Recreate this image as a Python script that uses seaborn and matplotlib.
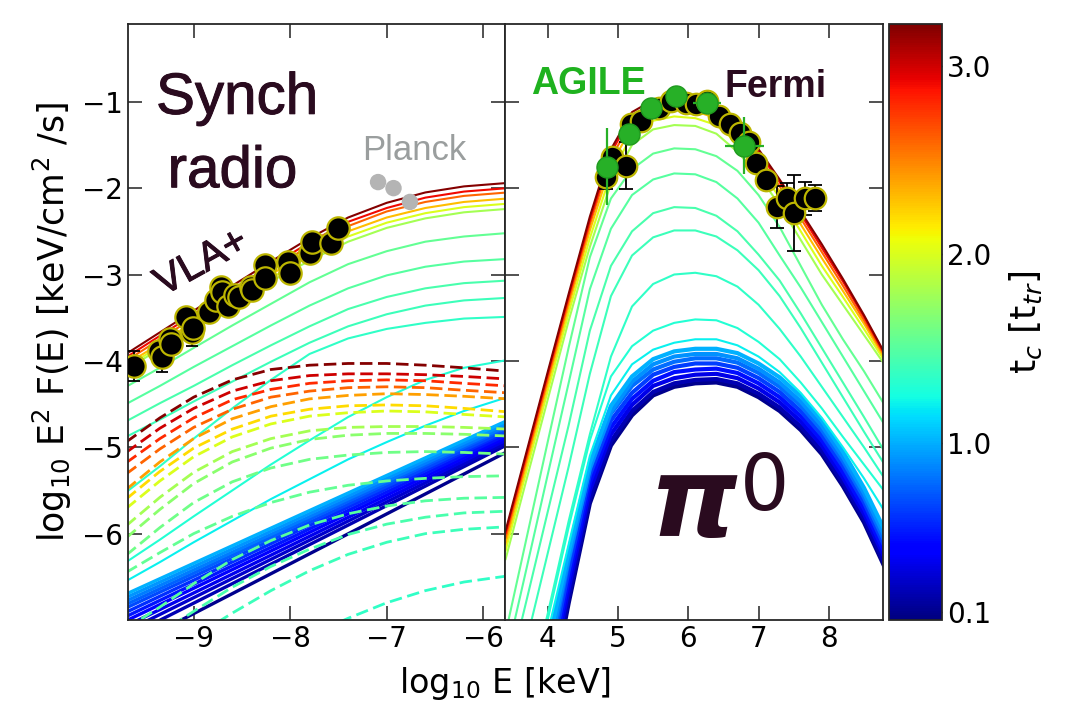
import matplotlib
matplotlib.use("Agg")
import matplotlib.pyplot as plt
import matplotlib.patheffects as pe
import pandas as pd
import seaborn as sns

sns.set_style("ticks")
plt.rcParams['font.family'] = ['DejaVu Sans']
plt.rcParams['axes.linewidth'] = 1.3

T_MIN, T_MAX = 0.06, 3.22
JET = matplotlib.colormaps['jet']

# ---------------- left panel: synchrotron (radio) ----------------
x_syn = [-9.7, -9.35, -9.0, -8.6, -8.2, -7.8, -7.4, -7.0, -6.6, -6.2, -5.75]

syn_t = [1.2, 1.3, 1.35, 1.4, 1.45, 1.5, 1.55, 1.8, 2.0, 2.3, 2.6, 2.9, 3.2]
syn_y = [
    [-6.55, -6.33, -6.10, -5.85, -5.60, -5.37, -5.14, -4.94, -4.75, -4.58, -4.42],
    [-6.33, -6.07, -5.80, -5.50, -5.20, -4.92, -4.65, -4.42, -4.22, -4.08, -3.99],
    [-5.52, -5.22, -4.90, -4.55, -4.22, -3.92, -3.74, -3.63, -3.56, -3.51, -3.49],
    [-4.88, -4.68, -4.47, -4.24, -4.01, -3.79, -3.60, -3.46, -3.36, -3.30, -3.27],
    [-4.70, -4.49, -4.29, -4.05, -3.82, -3.60, -3.40, -3.26, -3.16, -3.10, -3.07],
    [-4.50, -4.29, -4.07, -3.83, -3.59, -3.36, -3.16, -3.01, -2.91, -2.85, -2.82],
    [-4.30, -4.08, -3.85, -3.59, -3.34, -3.09, -2.88, -2.73, -2.62, -2.56, -2.52],
    [-4.10, -3.86, -3.62, -3.35, -3.08, -2.84, -2.62, -2.46, -2.35, -2.28, -2.24],
    [-4.07, -3.83, -3.59, -3.31, -3.04, -2.79, -2.56, -2.40, -2.29, -2.22, -2.18],
    [-4.04, -3.80, -3.55, -3.27, -3.00, -2.73, -2.50, -2.34, -2.23, -2.16, -2.12],
    [-4.00, -3.75, -3.50, -3.22, -2.94, -2.67, -2.44, -2.27, -2.16, -2.09, -2.05],
    [-3.96, -3.71, -3.46, -3.17, -2.90, -2.63, -2.39, -2.23, -2.11, -2.04, -2.00],
    [-3.92, -3.67, -3.42, -3.13, -2.85, -2.58, -2.34, -2.17, -2.05, -1.98, -1.94],
]

# early times: nearly straight lines, value at each end of the panel
x_syn_band = [-9.7, -5.75]
syn_band_t = [0.1, 0.2, 0.28, 0.36, 0.44, 0.52, 0.6, 0.68, 0.76, 0.84, 0.92, 1.0]
syn_band_lo = [-7.33, -7.20, -7.13, -7.07, -7.01, -6.96, -6.91, -6.86, -6.82, -6.78, -6.74, -6.70]
syn_band_hi = [-5.05, -4.97, -4.94, -4.91, -4.88, -4.85, -4.82, -4.80, -4.77, -4.75, -4.72, -4.69]

syn_dash_t = [1.35, 1.4, 1.45, 1.5, 1.55, 1.6, 1.7, 1.8, 2.0, 2.2, 2.4, 2.6, 2.8, 3.0, 3.2]
syn_dash_y = [
    [-8.30, -8.10, -7.90, -7.65, -7.40, -7.18, -6.98, -6.80, -6.66, -6.56, -6.49],
    [-7.70, -7.45, -7.20, -6.92, -6.66, -6.43, -6.24, -6.10, -6.00, -5.95, -5.92],
    [-7.40, -7.15, -6.90, -6.62, -6.38, -6.18, -6.01, -5.89, -5.81, -5.76, -5.74],
    [-7.10, -6.85, -6.58, -6.30, -6.08, -5.90, -5.77, -5.68, -5.62, -5.59, -5.58],
    [-6.45, -6.22, -6.00, -5.80, -5.64, -5.52, -5.44, -5.39, -5.36, -5.34, -5.33],
    [-6.25, -5.93, -5.64, -5.40, -5.24, -5.14, -5.09, -5.06, -5.05, -5.06, -5.08],
    [-6.05, -5.72, -5.42, -5.17, -5.01, -4.91, -4.86, -4.84, -4.84, -4.85, -4.87],
    [-5.91, -5.58, -5.29, -5.05, -4.90, -4.81, -4.77, -4.76, -4.76, -4.77, -4.79],
    [-5.71, -5.39, -5.11, -4.88, -4.73, -4.64, -4.60, -4.58, -4.59, -4.62, -4.65],
    [-5.60, -5.28, -5.01, -4.79, -4.64, -4.56, -4.52, -4.51, -4.52, -4.55, -4.59],
    [-5.49, -5.17, -4.90, -4.67, -4.53, -4.44, -4.40, -4.38, -4.39, -4.41, -4.44],
    [-5.31, -5.02, -4.77, -4.56, -4.42, -4.35, -4.31, -4.30, -4.31, -4.34, -4.37],
    [-5.18, -4.90, -4.66, -4.45, -4.33, -4.26, -4.23, -4.22, -4.23, -4.26, -4.29],
    [-5.06, -4.78, -4.55, -4.35, -4.23, -4.17, -4.15, -4.15, -4.16, -4.18, -4.21],
    [-4.94, -4.66, -4.42, -4.22, -4.10, -4.05, -4.03, -4.03, -4.05, -4.08, -4.12],
]

vla_x = [-9.62, -9.36, -9.33, -9.25, -9.23, -9.08, -9.02, -9.01, -8.84, -8.77, -8.72, -8.71, -8.64,
         -8.57, -8.53, -8.41, -8.40, -8.26, -8.26, -8.02, -8.00, -7.79, -7.77, -7.58, -7.50]
vla_y = [-4.06, -3.89, -3.96, -3.75, -3.81, -3.49, -3.66, -3.62, -3.43, -3.29, -3.14, -3.20, -3.37,
         -3.24, -3.26, -3.14, -3.18, -2.89, -3.04, -2.85, -2.98, -2.75, -2.62, -2.64, -2.46]
vla_err = [0.17, 0.05, 0.17, 0.05, 0.05, 0.05, 0.17, 0.05, 0.05, 0.05, 0.05, 0.05, 0.05,
           0.05, 0.05, 0.05, 0.05, 0.05, 0.05, 0.05, 0.05, 0.05, 0.05, 0.05, 0.05]

planck_x = [-7.09, -6.93, -6.76]
planck_y = [-1.93, -2.00, -2.16]

# ---------------- right panel: pi0 decay gamma rays ----------------
x_pi = [3.4, 3.7, 4.0, 4.3, 4.6, 4.9, 5.2, 5.5, 5.8, 6.1, 6.4, 6.7, 7.0, 7.3, 7.6, 7.9, 8.2, 8.5, 8.8]

pi_t = [1.2, 1.3, 1.35, 1.4, 1.45, 1.5, 1.55, 1.8, 2.0, 2.3, 2.6, 2.9, 3.2]
pi_y = [
    [-9.30, -8.20, -7.15, -6.12, -5.10, -4.40, -4.04, -3.87, -3.79, -3.75, -3.75, -3.82, -3.95, -4.13, -4.37, -4.66, -5.00, -5.36, -5.75],
    [-9.20, -8.10, -7.00, -5.92, -4.92, -4.18, -3.83, -3.65, -3.56, -3.52, -3.53, -3.62, -3.78, -3.98, -4.25, -4.55, -4.88, -5.20, -5.52],
    [-9.00, -7.95, -6.93, -5.85, -4.85, -3.95, -3.37, -3.11, -3.00, -2.98, -3.02, -3.14, -3.35, -3.63, -3.95, -4.30, -4.65, -5.00, -5.37],
    [-8.25, -7.24, -6.23, -5.22, -4.15, -3.25, -2.78, -2.57, -2.49, -2.49, -2.56, -2.72, -2.95, -3.25, -3.62, -4.02, -4.42, -4.82, -5.21],
    [-7.78, -6.77, -5.75, -4.74, -3.65, -2.90, -2.50, -2.29, -2.22, -2.23, -2.32, -2.50, -2.77, -3.07, -3.45, -3.85, -4.25, -4.65, -5.06],
    [-7.47, -6.40, -5.32, -4.25, -3.17, -2.47, -2.08, -1.90, -1.83, -1.84, -1.93, -2.12, -2.40, -2.78, -3.15, -3.55, -3.95, -4.35, -4.75],
    [-7.16, -6.05, -4.94, -3.84, -2.80, -2.12, -1.78, -1.60, -1.54, -1.55, -1.63, -1.80, -2.08, -2.45, -2.90, -3.35, -3.75, -4.12, -4.52],
    [-6.30, -5.37, -4.45, -3.53, -2.68, -1.95, -1.50, -1.32, -1.27, -1.28, -1.37, -1.58, -1.85, -2.20, -2.60, -3.00, -3.35, -3.70, -4.05],
    [-6.20, -5.27, -4.35, -3.44, -2.58, -1.83, -1.39, -1.22, -1.17, -1.19, -1.27, -1.48, -1.76, -2.11, -2.50, -2.90, -3.26, -3.63, -4.01],
    [-6.12, -5.19, -4.27, -3.36, -2.49, -1.73, -1.29, -1.13, -1.09, -1.11, -1.19, -1.40, -1.69, -2.04, -2.42, -2.81, -3.19, -3.57, -3.98],
    [-6.05, -5.13, -4.21, -3.30, -2.42, -1.65, -1.22, -1.07, -1.03, -1.05, -1.13, -1.33, -1.63, -1.98, -2.35, -2.74, -3.13, -3.53, -3.95],
    [-6.00, -5.08, -4.16, -3.25, -2.37, -1.59, -1.16, -1.01, -0.98, -1.00, -1.08, -1.28, -1.58, -1.93, -2.30, -2.69, -3.08, -3.49, -3.93],
    [-5.97, -5.05, -4.13, -3.22, -2.33, -1.55, -1.12, -0.98, -0.95, -0.97, -1.05, -1.25, -1.55, -1.90, -2.27, -2.65, -3.05, -3.47, -3.92],
]

pi_band_t = [0.1, 0.2, 0.35, 0.5, 0.65, 0.8, 0.9, 1.0]
pi_band_y = [
    [-10.50, -9.30, -8.05, -6.80, -5.65, -4.98, -4.63, -4.40, -4.30, -4.26, -4.25, -4.30, -4.42, -4.58, -4.80, -5.08, -5.45, -5.87, -6.40],
    [-10.45, -9.23, -7.97, -6.73, -5.59, -4.93, -4.58, -4.36, -4.26, -4.22, -4.21, -4.26, -4.38, -4.54, -4.76, -5.04, -5.41, -5.83, -6.36],
    [-10.38, -9.13, -7.86, -6.63, -5.50, -4.85, -4.51, -4.29, -4.20, -4.16, -4.15, -4.20, -4.32, -4.48, -4.70, -4.98, -5.35, -5.77, -6.29],
    [-10.30, -9.02, -7.75, -6.52, -5.41, -4.77, -4.44, -4.23, -4.13, -4.10, -4.09, -4.14, -4.26, -4.42, -4.64, -4.92, -5.29, -5.71, -6.23],
    [-10.23, -8.92, -7.64, -6.42, -5.32, -4.69, -4.37, -4.16, -4.07, -4.03, -4.03, -4.08, -4.20, -4.36, -4.58, -4.86, -5.22, -5.64, -6.16],
    [-10.15, -8.81, -7.53, -6.31, -5.23, -4.61, -4.29, -4.10, -4.01, -3.97, -3.97, -4.02, -4.14, -4.30, -4.52, -4.80, -5.16, -5.58, -6.10],
    [-10.08, -8.71, -7.41, -6.28, -5.25, -4.59, -4.24, -4.04, -3.95, -3.92, -3.92, -3.97, -4.09, -4.25, -4.47, -4.75, -5.11, -5.53, -6.04],
    [-10.00, -8.60, -7.30, -6.20, -5.18, -4.52, -4.18, -3.98, -3.89, -3.86, -3.86, -3.91, -4.03, -4.19, -4.41, -4.69, -5.05, -5.47, -5.97],
]

fermi_x = [4.83, 4.92, 5.11, 5.19, 5.33, 5.59, 5.76, 5.97, 6.11, 6.26, 6.44, 6.59, 6.73, 6.87,
           6.97, 7.11, 7.26, 7.40, 7.51, 7.66, 7.80]
fermi_y = [-1.87, -1.64, -1.74, -1.26, -1.22, -1.07, -0.99, -1.01, -1.03, -0.99, -1.16, -1.26, -1.36,
           -1.47, -1.71, -1.91, -2.22, -2.11, -2.29, -2.12, -2.11]
fermi_err = [0.14, 0.05, 0.27, 0.05, 0.05, 0.05, 0.05, 0.05, 0.05, 0.05, 0.05, 0.05, 0.05, 0.05,
             0.05, 0.08, 0.24, 0.17, 0.44, 0.19, 0.15]

agile_x = [4.84, 5.16, 5.47, 5.83, 6.27, 6.80]
agile_y = [-1.75, -1.37, -1.07, -0.93, -1.01, -1.51]
agile_yerr = [0.45, 0.05, 0.05, 0.04, 0.05, 0.33]
agile_xerr = [0.04, 0.12, 0.05, 0.05, 0.2, 0.28]


def curves_frame(xs, ts, ys):
    rows = []
    for k, (t, yv) in enumerate(zip(ts, ys)):
        for x, y in zip(xs, yv):
            rows.append((k, t, x, y))
    return pd.DataFrame(rows, columns=['curve', 't', 'x', 'y'])


def draw_family(ax, df, lw, ls='-'):
    sns.lineplot(data=df, x='x', y='y', hue='t', units='curve', estimator=None, sort=False,
                 palette=JET, hue_norm=(T_MIN, T_MAX), legend=False, linewidth=lw,
                 linestyle=ls, ax=ax)


fig = plt.figure(figsize=(10.66, 7.04), dpi=100)
ax1 = fig.add_axes([0.1201, 0.1193, 0.3541, 0.8466])
ax2 = fig.add_axes([0.4742, 0.1193, 0.3541, 0.8466])
cax = fig.add_axes([0.834, 0.1193, 0.0497, 0.8466])

dark = '#2a0b1f'
edge_yellow = '#bdb600'
thick = [pe.withStroke(linewidth=0.7, foreground=dark)]

# left panel
draw_family(ax1, curves_frame(x_syn_band, syn_band_t,
                              [[a, b] for a, b in zip(syn_band_lo, syn_band_hi)]), 2.4)
draw_family(ax1, curves_frame(x_syn, syn_t, syn_y), 1.5)
draw_family(ax1, curves_frame(x_syn, syn_dash_t, syn_dash_y), 2.0, (0, (4.5, 2)))

ax1.errorbar(vla_x, vla_y, yerr=vla_err, fmt='none', ecolor='black', elinewidth=1.3,
             capsize=4, capthick=1.3, zorder=4)
sns.scatterplot(x=vla_x, y=vla_y, s=260, color='black', edgecolor=edge_yellow,
                linewidth=1.6, zorder=5, ax=ax1)
sns.scatterplot(x=planck_x, y=planck_y, s=140, color='#b4b4b4', edgecolor='none',
                zorder=5, ax=ax1)

ax1.text(-9.39, -1.14, 'Synch', fontsize=42, family='Liberation Sans', color=dark,
         path_effects=thick)
ax1.text(-9.27, -1.99, 'radio', fontsize=42, family='Liberation Sans', color=dark,
         path_effects=thick)
ax1.text(-7.25, -1.68, 'Planck', fontsize=25, family='Liberation Sans', color='#9a9e9e')
ax1.text(-8.92, -2.86, 'VLA+', fontsize=29, family='Liberation Sans', color=dark,
         rotation=29, rotation_mode='anchor', ha='center', va='center', path_effects=thick)

# right panel
draw_family(ax2, curves_frame(x_pi, pi_band_t, pi_band_y), 3.0)
draw_family(ax2, curves_frame(x_pi, pi_t, pi_y), 1.5)

ax2.errorbar(fermi_x, fermi_y, yerr=fermi_err, fmt='none', ecolor='black', elinewidth=1.3,
             capsize=5, capthick=1.3, zorder=4)
sns.scatterplot(x=fermi_x, y=fermi_y, s=240, color='black', edgecolor=edge_yellow,
                linewidth=1.6, zorder=5, ax=ax2)
ax2.errorbar(agile_x, agile_y, yerr=agile_yerr, xerr=agile_xerr, fmt='none',
             ecolor='#27b027', elinewidth=1.6, zorder=6)
sns.scatterplot(x=agile_x, y=agile_y, s=230, color='#27b027', edgecolor='#1f9a1f',
                linewidth=1.0, zorder=7, ax=ax2)

ax2.text(3.77, -0.91, 'AGILE', fontsize=27, fontweight='bold', family='Liberation Sans',
         color='#1fb21f')
ax2.text(6.51, -0.95, 'Fermi', fontsize=27, fontweight='bold', family='Liberation Sans',
         color=dark)
ax2.text(5.45, -6.03, 'π', fontsize=80, fontweight='bold', fontstyle='italic',
         family='DejaVu Sans', color=dark)
ax2.text(6.74, -5.73, '0', fontsize=56, family='DejaVu Sans', color=dark)

# axes styling
for ax in (ax1, ax2):
    ax.set_ylim(-7, -0.1)
    ax.set_yticks([-6, -5, -4, -3, -2, -1])
    ax.tick_params(direction='in', top=True, right=True, length=10, width=1.1,
                   labelsize=20, color='#222222', labelcolor='black')
    ax.set_xlabel('')
    ax.set_ylabel('')

ax1.set_xlim(-9.68, -5.77)
ax1.set_xticks([-9, -8, -7, -6])
ax2.set_xlim(3.4, 8.77)
ax2.set_xticks([4, 5, 6, 7, 8])
ax2.tick_params(labelleft=False)

ax1.set_ylabel(r'log$_{10}$ E$^2$ F(E) [keV/cm$^2$ /s]', fontsize=25, labelpad=6,
               color='black')
fig.text(505.5 / 1066, 1 - 683 / 704, r'log$_{10}$ E [keV]', fontsize=24,
         ha='center', va='center', color='black')

sm = plt.cm.ScalarMappable(cmap=JET, norm=plt.Normalize(T_MIN, T_MAX))
cb = fig.colorbar(sm, cax=cax)
cb.set_ticks([0.1, 1.0, 2.0, 3.0])
cb.set_ticklabels(['0.1', '1.0', '2.0', '3.0'])
cax.tick_params(direction='in', length=8, width=1.0, labelsize=20, labelcolor='black')
cb.outline.set_linewidth(1.3)
cb.set_label(r't$_c$ [t$_{tr}$]', fontsize=26, labelpad=12, color='black')

fig.savefig('out.png', dpi=100)
